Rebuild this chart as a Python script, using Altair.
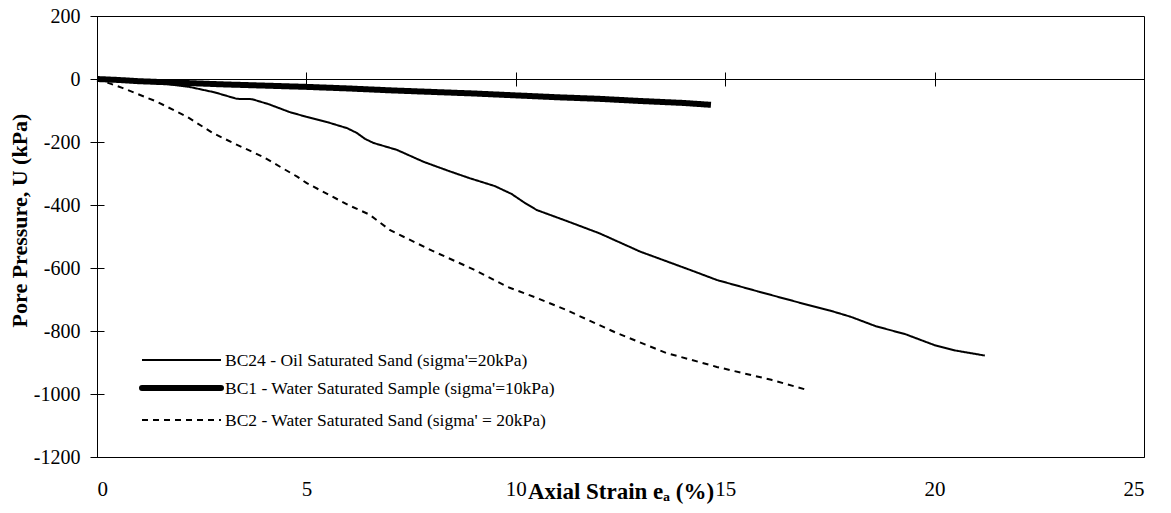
import altair as alt
import pandas as pd

# ---- data ----
series_names = [
    "BC24 - Oil Saturated Sand (sigma'=20kPa)",
    "BC1 - Water Saturated Sample (sigma'=10kPa)",
    "BC2 - Water Saturated Sand (sigma' = 20kPa)",
]

bc24_x = [0, 0.5, 1.0, 1.6, 2.2, 2.8, 3.34, 3.7, 4.1, 4.6, 5.0, 5.5, 5.97, 6.2, 6.4, 6.6, 7.16, 7.8, 8.4, 8.9,
          9.5, 9.9, 10.2, 10.5, 11.2, 12.0, 12.97, 14.16, 14.8, 15.8, 16.8, 17.5, 18.0, 18.6, 19.3, 20.0, 20.5, 21.2]
bc24_u = [0, -5, -10, -15, -25, -42, -63, -64, -80, -105, -120, -137, -156, -171, -190, -203, -225, -263, -292, -315,
          -340, -365, -392, -416, -450, -490, -548, -606, -638, -675, -711, -735, -755, -785, -810, -845, -862, -878]

bc1_x = [0, 0.5, 1, 2, 3, 4, 5, 6, 7, 8, 9, 10, 11, 12, 13, 14, 14.66]
bc1_u = [0, -3, -7, -12, -17, -21, -25, -30, -36, -41, -46, -52, -58, -63, -70, -76, -82]

bc2_x = [0, 0.62, 1.43, 2.15, 2.77, 3.25, 3.96, 4.78, 5.0, 6.0, 6.5, 7.0, 8.0, 9.0, 9.8, 10.5, 11.2,
         12.4, 13.6, 14.8, 16.1, 16.9]
bc2_u = [0, -29, -72, -120, -172, -203, -247, -310, -330, -400, -430, -480, -545, -605, -660, -695, -733,
         -806, -870, -914, -955, -985]

x_ticks = [0, 5, 10, 15, 20, 25]
y_ticks = [-1200, -1000, -800, -600, -400, -200, 0, 200]

line_widths = [2, 6, 2]
line_dashes = [[1, 0], [1, 0], [6, 5]]

rows = []
for name, xs, us in zip(series_names, [bc24_x, bc1_x, bc2_x], [bc24_u, bc1_u, bc2_u]):
    for i, (xv, uv) in enumerate(zip(xs, us)):
        rows.append({"series": name, "x": xv, "u": uv, "i": i})
df = pd.DataFrame(rows)

W, H = 1047, 441
ZERO_Y = 63  # pixel distance from top to U = 0

FONT = "Liberation Serif"

xscale = alt.Scale(domain=[0, 25], nice=False, zero=False)
yscale = alt.Scale(domain=[-1200, 200], nice=False)

main_x_axis = alt.Axis(
    values=x_ticks, ticks=False, tickSize=0, grid=False, domain=True, domainColor="black",
    labelFont=FONT, labelFontSize=21, labelColor="black", labelPadding=21,
    labelExpr="'' + datum.value",
    title="Axial Strain eₐ (%)", titleFont=FONT, titleFontSize=23, titleFontWeight="bold",
    titleColor="black", titleY=41, titleBaseline="alphabetic",
)
left_y_axis = alt.Axis(
    values=y_ticks, tickSize=7, tickColor="black", grid=False, domainColor="black",
    labelFont=FONT, labelFontSize=20, labelColor="black", labelPadding=10,
    labelExpr="'' + datum.value",
    title="Pore Pressure, U (kPa)", titleFont=FONT, titleFontSize=22, titleFontWeight="bold",
    titleColor="black", titleX=-71, titleY=204, titleBaseline="alphabetic", titleAngle=-90,
)
zero_top_axis = alt.Axis(
    orient="top", offset=-ZERO_Y, values=x_ticks, tickSize=7, tickColor="black",
    domain=True, domainColor="black", labels=False, title=None, grid=False,
)
zero_bottom_axis = alt.Axis(
    orient="bottom", offset=-(H - ZERO_Y), values=x_ticks, tickSize=7, tickColor="black",
    domain=False, labels=False, title=None, grid=False,
)
inner_y_axis = alt.Axis(
    orient="right", offset=-W, values=y_ticks, tickSize=7, tickColor="black",
    domain=False, labels=False, title=None, grid=False,
)

base = alt.Chart(df)

lines = base.mark_line(color="black").encode(
    x=alt.X("x:Q", scale=xscale, axis=main_x_axis),
    y=alt.Y("u:Q", scale=yscale, axis=left_y_axis),
    order=alt.Order("i:Q"),
    strokeDash=alt.StrokeDash(
        "series:N",
        scale=alt.Scale(type="ordinal", domain=series_names, range=line_dashes),
        legend=None,
    ),
    strokeWidth=alt.StrokeWidth(
        "series:N",
        scale=alt.Scale(type="ordinal", domain=series_names, range=line_widths),
        legend=None,
    ),
)

zero_top = base.mark_point(opacity=0).encode(
    x=alt.X("x:Q", scale=xscale, axis=zero_top_axis),
    y=alt.Y("u:Q", scale=yscale, axis=inner_y_axis),
)
zero_bottom = base.mark_point(opacity=0).encode(
    x=alt.X("x:Q", scale=xscale, axis=zero_bottom_axis),
    y=alt.Y("u:Q", scale=yscale, axis=None),
)

# ---- hand-built legend (inside plot, lower left) ----
legend_layers = []
leg_rows_y = [344, 372, 404]  # pixel rows inside the plot area
one = pd.DataFrame({"k": [0]})
for name, lw, dash, ly in zip(series_names, line_widths, line_dashes, leg_rows_y):
    sym = alt.Chart(one).mark_rule(
        color="black", strokeWidth=lw, strokeDash=dash,
        strokeCap="round" if lw > 3 else "butt",
    ).encode(x=alt.value(45), x2=alt.value(124), y=alt.value(ly))
    lab = alt.Chart(one).mark_text(
        align="left", baseline="middle", font=FONT, fontSize=17.5, color="black",
    ).encode(x=alt.value(128), y=alt.value(ly + 1), text=alt.value(name))
    legend_layers += [sym, lab]

chart = (
    alt.layer(lines, zero_top, zero_bottom, *legend_layers)
    .resolve_axis(x="independent", y="independent")
    .properties(
        width=W, height=H,
        autosize=alt.AutoSizeParams(type="none"),
        padding={"left": 89, "top": 8, "right": 10, "bottom": 56},
        background="white",
    )
    .configure_view(stroke="black", strokeWidth=1)
)

chart.save("out.html", embed_options={"renderer": "svg", "actions": False})
